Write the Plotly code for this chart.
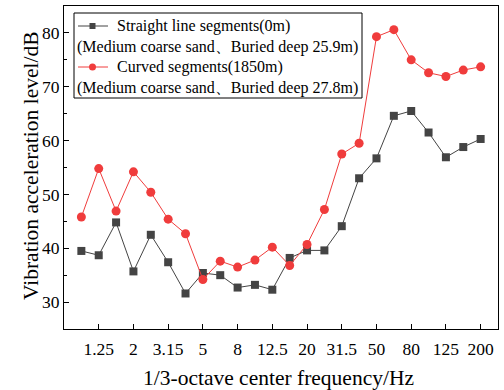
import plotly.graph_objects as go

freqs = ["1", "1.25", "1.6", "2", "2.5", "3.15", "4", "5", "6.3", "8", "10", "12.5",
         "16", "20", "25", "31.5", "40", "50", "63", "80", "100", "125", "160", "200"]
straight = [39.5, 38.7, 44.8, 35.7, 42.5, 37.4, 31.6, 35.4, 35.0, 32.7, 33.2, 32.3,
            38.2, 39.6, 39.6, 44.1, 53.0, 56.7, 64.6, 65.5, 61.5, 56.9, 58.8, 60.3]
curved = [45.8, 54.8, 46.9, 54.2, 50.4, 45.4, 42.7, 34.2, 37.6, 36.5, 37.8, 40.2,
          36.8, 40.7, 47.2, 57.5, 59.5, 79.3, 80.6, 75.0, 72.6, 71.9, 73.1, 73.7]
tick_labels = ["1.25", "2", "3.15", "5", "8", "12.5", "20", "31.5", "50", "80", "125", "200"]

BLACK = "#444444"
RED = "#f03c3c"
FONT = "Liberation Serif"

xi = list(range(len(freqs)))
fig = go.Figure()
fig.add_trace(go.Scatter(x=xi, y=straight, mode="lines+markers", name="Straight line segments(0m)",
                         line=dict(color=BLACK, width=1),
                         marker=dict(symbol="square", size=8, color=BLACK)))
fig.add_trace(go.Scatter(x=xi, y=curved, mode="lines+markers", name="Curved segments(1850m)",
                         line=dict(color=RED, width=1),
                         marker=dict(symbol="circle", size=9, color=RED)))

tick_idx = [freqs.index(t) for t in tick_labels]
fig.update_xaxes(range=[-1, 24], tickmode="array", tickvals=tick_idx, ticktext=tick_labels,
                 ticks="inside", ticklen=5, tickcolor="black", showline=True, linecolor="black",
                 linewidth=1, mirror=True, showgrid=False, zeroline=False, ticklabelstandoff=4,
                 tickfont=dict(size=17.5, family=FONT, color="black"))
fig.update_yaxes(range=[25, 85], tickmode="array", tickvals=[30, 40, 50, 60, 70, 80],
                 ticks="inside", ticklen=5, tickcolor="black", showline=True, linecolor="black",
                 linewidth=1, mirror=True, showgrid=False, zeroline=False,
                 minor=dict(tickvals=[35, 45, 55, 65, 75], ticks="inside", ticklen=3, tickcolor="black"),
                 tickfont=dict(size=17.5, family=FONT, color="black"))

# pixel -> paper helpers (plot area: x 64..498, y 6..329)
PX_W = 434.0
PX_H = 323.0
def px(x):
    return (x - 64) / PX_W
def py(y):
    return (329 - y) / PX_H

# axis titles
fig.add_annotation(xref="paper", yref="paper", x=px(278.5), y=py(377.5), text="1/3-octave center frequency/Hz",
                   showarrow=False, xanchor="center", yanchor="middle",
                   font=dict(size=21.5, family=FONT, color="black"))
fig.add_annotation(xref="paper", yref="paper", x=px(31), y=py(166), text="Vibration acceleration level/dB",
                   showarrow=False, xanchor="center", yanchor="middle", textangle=-90,
                   font=dict(size=21.5, family=FONT, color="black"))

# manual legend
fig.add_shape(type="rect", xref="paper", yref="paper", x0=px(74), x1=px(362), y0=py(98), y1=py(13),
              line=dict(color="black", width=1), fillcolor="white")
legend_rows = [
    (26, "Straight line segments(0m)", BLACK, "square"),
    (47, "(Medium coarse sand、Buried deep 25.9m)", None, None),
    (67, "Curved segments(1850m)", RED, "circle"),
    (87.5, "(Medium coarse sand、Buried deep 27.8m)", None, None),
]
for y, txt, col, sym in legend_rows:
    if col is not None:
        fig.add_shape(type="line", xref="paper", yref="paper", x0=px(78), x1=px(108), y0=py(y), y1=py(y),
                      line=dict(color=col, width=1))
        if sym == "square":
            fig.add_shape(type="rect", xref="paper", yref="paper", xsizemode="pixel", ysizemode="pixel",
                          xanchor=px(92.5), yanchor=py(y), x0=-3, x1=3, y0=-3, y1=3,
                          line=dict(width=0), fillcolor=col)
        else:
            fig.add_shape(type="circle", xref="paper", yref="paper", xsizemode="pixel", ysizemode="pixel",
                          xanchor=px(92.5), yanchor=py(y), x0=-3.5, x1=3.5, y0=-3.5, y1=3.5,
                          line=dict(width=0), fillcolor=col)
        x_text = 115
    else:
        x_text = 75
    fig.add_annotation(xref="paper", yref="paper", x=px(x_text), y=py(y), text=txt, showarrow=False,
                       xanchor="left", yanchor="middle", font=dict(size=16, family=FONT, color="black"))

fig.update_layout(width=504, height=390, margin=dict(l=64, r=6, t=6, b=61),
                  plot_bgcolor="white", paper_bgcolor="white", showlegend=False)
fig.write_html("out.html")
